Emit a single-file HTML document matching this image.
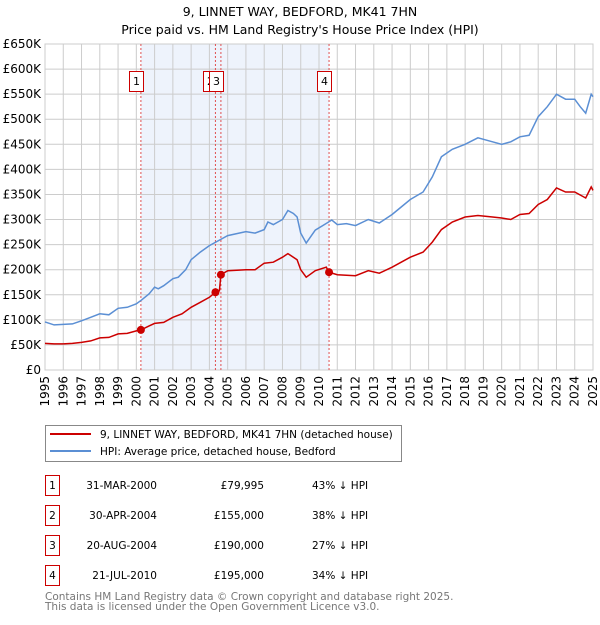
<!DOCTYPE html>
<html><head><meta charset="utf-8"><style>
body{margin:0;background:#fff;font-family:"Liberation Sans","DejaVu Sans",sans-serif;}
svg text{font-family:"DejaVu Sans","Liberation Sans",sans-serif;}
</style></head><body>
<svg id="c" width="600" height="620" xmlns="http://www.w3.org/2000/svg">
<text x="300" y="16" text-anchor="middle" font-size="12.5" fill="#000">9, LINNET WAY, BEDFORD, MK41 7HN</text>
<text x="300" y="34" text-anchor="middle" font-size="12.5" fill="#000">Price paid vs. HM Land Registry's House Price Index (HPI)</text>
<g id="plot"></g>
<g>
<rect x="45.5" y="425.5" width="356" height="36" fill="#fff" stroke="#888"/>
<line x1="50" y1="434" x2="91" y2="434" stroke="#cc0000" stroke-width="2"/>
<text x="100" y="438" font-size="10.5">9, LINNET WAY, BEDFORD, MK41 7HN (detached house)</text>
<line x1="50" y1="451" x2="91" y2="451" stroke="#5b8fd4" stroke-width="2"/>
<text x="100" y="455" font-size="10.5">HPI: Average price, detached house, Bedford</text>
</g>
<g id="table"></g>
<text x="45" y="600" font-size="10.5" fill="#777">Contains HM Land Registry data © Crown copyright and database right 2025.</text>
<text x="45" y="610" font-size="10.5" fill="#777">This data is licensed under the Open Government Licence v3.0.</text>
</svg>
<script>
const yTicks=[0,50,100,150,200,250,300,350,400,450,500,550,600,650];
const yearLabels=[1995,1996,1997,1998,1999,2000,2001,2002,2003,2004,2005,2006,2007,2008,2009,2010,2011,2012,2013,2014,2015,2016,2017,2018,2019,2020,2021,2022,2023,2024,2025];
const hpiT=[1995,1995.5,1996,1996.5,1997,1997.5,1998,1998.5,1999,1999.5,2000,2000.3,2000.7,2001,2001.2,2001.5,2002,2002.3,2002.7,2003,2003.5,2004,2004.5,2005,2005.5,2006,2006.5,2007,2007.2,2007.5,2008,2008.3,2008.6,2008.8,2009,2009.3,2009.8,2010.2,2010.7,2011,2011.5,2012,2012.7,2013.3,2014,2014.5,2015,2015.7,2016.2,2016.7,2017.3,2018,2018.7,2019.5,2020,2020.5,2021,2021.5,2022,2022.5,2023,2023.5,2024,2024.3,2024.6,2024.9,2025];
const hpiV=[96,90,91,92,98,105,112,110,123,125,132,140,152,165,162,168,182,185,200,220,235,248,258,268,272,276,273,280,295,290,300,318,312,305,273,253,279,288,299,290,292,288,300,293,310,325,340,355,385,425,440,450,463,455,450,455,465,468,505,525,550,540,540,525,512,550,545];
const paidT=[1995,1995.5,1996,1996.5,1997,1997.5,1998,1998.5,1999,1999.5,2000,2000.25,2000.7,2001,2001.5,2002,2002.5,2003,2003.5,2004,2004.33,2004.55,2004.63,2005,2006,2006.5,2007,2007.5,2008,2008.3,2008.8,2009,2009.3,2009.8,2010.4,2010.55,2011,2012,2012.7,2013.3,2014,2015,2015.7,2016.2,2016.7,2017.3,2018,2018.7,2019.5,2020,2020.5,2021,2021.5,2022,2022.5,2023,2023.5,2024,2024.6,2024.9,2025];
const paidV=[53,52,52,53,55,58,64,65,72,73,78,80,88,93,95,105,112,125,135,145,155,158,190,198,200,200,213,215,225,232,220,200,185,198,205,195,190,188,198,193,205,225,235,255,280,295,305,308,305,303,300,310,312,330,340,363,355,355,343,365,358];
const saleT=[2000.25,2004.33,2004.63,2010.55];
const saleV=[79.995,155,190,195];
const saleLabels=["1","2","3","4"];
const saleDates=["31-MAR-2000","30-APR-2004","20-AUG-2004","21-JUL-2010"];
const salePrices=["£79,995","£155,000","£190,000","£195,000"];
const saleDiffs=["43% ↓ HPI","38% ↓ HPI","27% ↓ HPI","34% ↓ HPI"];

const L=45,R=593,T=44,B=370;
const x=t=>L+(t-1995)*(R-L)/30;
const y=v=>B-v*(B-T)/650;
const NS="http://www.w3.org/2000/svg";
function mk(tag,attrs,parent,txt){const e=document.createElementNS(NS,tag);for(const k in attrs)e.setAttribute(k,attrs[k]);if(txt!==undefined)e.textContent=txt;parent.appendChild(e);return e;}
const g=document.getElementById('plot');
let e=mk('rect',{x:x(saleT[0]),y:T,width:x(saleT[3])-x(saleT[0]),height:B-T,fill:'#eef3fc'},g);


yTicks.forEach(v=>{
 let l=mk('line',{x1:L,x2:R,y1:y(v*1),y2:y(v*1),stroke:'#ccc','stroke-width':1},g);
 
 
 let t=mk('text',{x:L-4,y:y(v)+4,'text-anchor':'end','font-size':12},g,v===0?'£0':'£'+v+'K');
 
 
});
yearLabels.forEach(yr=>{
 let l=mk('line',{x1:x(yr),x2:x(yr),y1:T,y2:B,stroke:'#ccc','stroke-width':1},g);
 
 
 let t=mk('text',{x:0,y:0,'text-anchor':'end','font-size':12,transform:`translate(${x(yr)+4},${B+6}) rotate(-90)`},g,String(yr));
 
 
});
let ax=mk('rect',{x:L,y:T,width:R-L,height:B-T,fill:'none',stroke:'#ccc'},g);


saleT.forEach((t,i)=>{
 let l=mk('line',{x1:x(t),x2:x(t),y1:T,y2:B,stroke:'#e05050','stroke-width':1,'stroke-dasharray':'2,2'},g);
 
 
});
const pts=(ts,vs)=>ts.map((t,i)=>x(t).toFixed(1)+','+y(vs[i]).toFixed(1)).join(' ');
let hp=mk('polyline',{points:pts(hpiT,hpiV),fill:'none',stroke:'#5b8fd4','stroke-width':1.5},g);


let pp=mk('polyline',{points:pts(paidT,paidV),fill:'none',stroke:'#cc0000','stroke-width':1.5},g);


saleT.forEach((t,i)=>{
 let c=mk('circle',{cx:x(t),cy:y(saleV[i]),r:4,fill:'#cc0000'},g);
 
 
 const bx=Math.round(x(t))-11.5;
 let r=mk('rect',{x:bx,y:71.5,width:14,height:20,fill:'#fff',stroke:'#cc0000'},g);
 
 
 let tx=mk('text',{x:bx+7,y:85,'text-anchor':'middle','font-size':11},g,saleLabels[i]);
 
 
});
const tb=document.getElementById('table');
saleLabels.forEach((s,i)=>{
 const yy=475+i*30;
 let r=mk('rect',{x:45.5,y:yy+0.5,width:14,height:20,fill:'#fff',stroke:'#cc0000'},tb);
 
 
 let a=mk('text',{x:52.5,y:yy+14,'text-anchor':'middle','font-size':10.5},tb,s);
 
 
 let d=mk('text',{x:157,y:yy+14,'text-anchor':'end','font-size':10.5},tb,saleDates[i]);
 
 
 let p=mk('text',{x:264,y:yy+14,'text-anchor':'end','font-size':10.5},tb,salePrices[i]);
 
 
 let h=mk('text',{x:312,y:yy+14,'font-size':10.5},tb,saleDiffs[i]);
 
 
});
</script>
</body></html>
